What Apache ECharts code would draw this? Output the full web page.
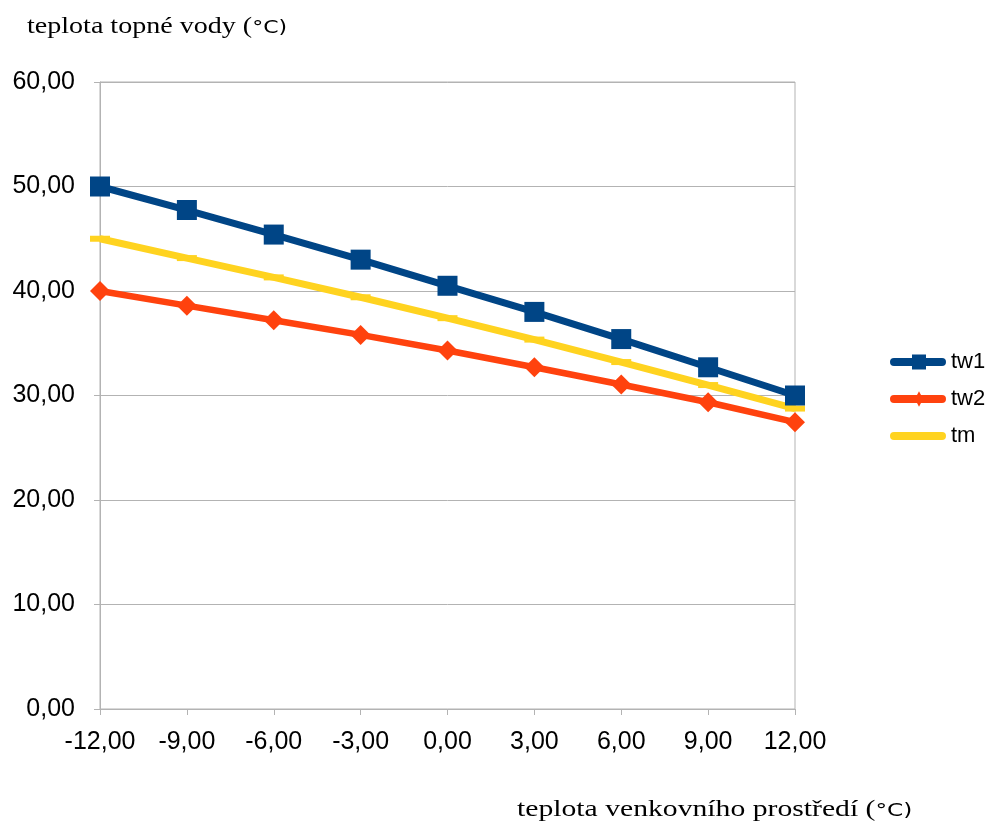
<!DOCTYPE html>
<html><head><meta charset="utf-8">
<script src="https://cdn.jsdelivr.net/npm/echarts@6/dist/echarts.min.js"></script>
<style>html,body{margin:0;padding:0;background:#fff}#c{width:985px;height:823px}</style>
</head><body><div id="c"></div>
<script>
const xValues = [-12, -9, -6, -3, 0, 3, 6, 9, 12];
const tw1 = [50.0, 47.75, 45.4, 43.0, 40.5, 38.0, 35.4, 32.7, 30.0];
const tw2 = [40.0, 38.6, 37.2, 35.8, 34.3, 32.7, 31.05, 29.35, 27.45];
const tm  = [45.0, 43.15, 41.3, 39.4, 37.4, 35.35, 33.2, 31.0, 28.75];
const seriesNames = ['tw1', 'tw2', 'tm'];
const yTitle = 'teplota topné vody (';
const xTitle = 'teplota venkovního prostředí (';
const unitText = '°C)';

const fmt = v => v.toFixed(2).replace('.', ',');
const pairs = arr => xValues.map((x, i) => [x, arr[i]]);
const colors = { tw1: '#004586', tw2: '#ff420e', tm: '#ffd320' };
const box = ' M0,0 L0,0 Z M0,16 L0,16 Z M56,0 L56,0 Z M56,16 L56,16 Z';
const icons = {
  tw1: 'path://M4,4 L22,4 L22,0.5 L36,0.5 L36,4 L52,4 A4,4 0 0 1 52,12 L36,12 L36,15.5 L22,15.5 L22,12 L4,12 A4,4 0 0 1 4,4 Z' + box,
  tw2: 'path://M4,4 L27,4 L29,0.3 L31,4 L52,4 A4,4 0 0 1 52,12 L31,12 L29,15.7 L27,12 L4,12 A4,4 0 0 1 4,4 Z' + box,
  tm: 'path://M4,4 L52,4 A4,4 0 0 1 52,12 L4,12 A4,4 0 0 1 4,4 Z' + box
};
const serifFont = '23px "Liberation Serif"';
const sansFont = '18px "DejaVu Sans"';
const ctx = document.createElement('canvas').getContext('2d');
const measure = (t, f) => { ctx.font = f; return ctx.measureText(t).width; };
const titleText = (t, x, y, sx) => {
  const w = measure(t, serifFont) * sx;
  return [
    { type: 'text', x: x, y: y, scaleX: sx, scaleY: 1, silent: true,
      style: { text: t, fontFamily: 'Liberation Serif', fontSize: 23, fontWeight: 'normal', fill: '#000', verticalAlign: 'middle', align: 'left' } },
    { type: 'text', x: x + w, y: y + 1, scaleX: sx, scaleY: 1, silent: true,
      style: { text: unitText, fontFamily: 'DejaVu Sans', fontSize: 18, fontWeight: 'normal', fill: '#000', verticalAlign: 'middle', align: 'left' } }
  ];
};

const chart = echarts.init(document.getElementById('c'));
chart.setOption({
  animation: false,
  backgroundColor: '#fff',
  grid: { left: 100, right: 190, top: 82, bottom: 114, show: true, borderColor: '#b3b3b3', borderWidth: 1, backgroundColor: 'transparent' },
  graphic: [].concat(titleText(yTitle, 27, 27, 1.22), titleText(xTitle, 517, 810, 1.29)),
  legend: {
    orient: 'vertical', left: 885, top: 346, itemGap: 15, itemWidth: 56, itemHeight: 16,
    textStyle: { fontFamily: 'Liberation Sans', fontSize: 22, color: '#000' },
    itemStyle: { borderWidth: 0 },
    data: seriesNames.map(n => ({ name: n, icon: icons[n], itemStyle: { color: colors[n] } }))
  },
  xAxis: {
    type: 'value', min: -12, max: 12, interval: 3,
    axisLine: { show: true, onZero: false, lineStyle: { color: '#b3b3b3' } },
    axisTick: { show: true, length: 6, lineStyle: { color: '#b3b3b3' } },
    splitLine: { show: false },
    axisLabel: { formatter: fmt, fontFamily: 'Liberation Sans', fontSize: 25, color: '#000', margin: 21 }
  },
  yAxis: {
    type: 'value', min: 0, max: 60, interval: 10,
    axisLine: { show: true, onZero: false, lineStyle: { color: '#b3b3b3' } },
    axisTick: { show: true, length: 6, lineStyle: { color: '#b3b3b3' } },
    splitLine: { show: true, lineStyle: { color: '#b3b3b3' } },
    axisLabel: { formatter: fmt, fontFamily: 'Liberation Sans', fontSize: 25, color: '#000', margin: 25 }
  },
  series: [
    { name: 'tw1', type: 'line', data: pairs(tw1), symbol: 'rect', symbolSize: 20,
      lineStyle: { color: colors.tw1, width: 7 }, itemStyle: { color: colors.tw1 }, z: 4 },
    { name: 'tw2', type: 'line', data: pairs(tw2), symbol: 'diamond', symbolSize: 20,
      lineStyle: { color: colors.tw2, width: 6.5 }, itemStyle: { color: colors.tw2 }, z: 2 },
    { name: 'tm', type: 'line', data: pairs(tm), symbol: 'rect', symbolSize: [20, 6],
      lineStyle: { color: colors.tm, width: 7 }, itemStyle: { color: colors.tm }, z: 3 }
  ]
});
</script></body></html>
